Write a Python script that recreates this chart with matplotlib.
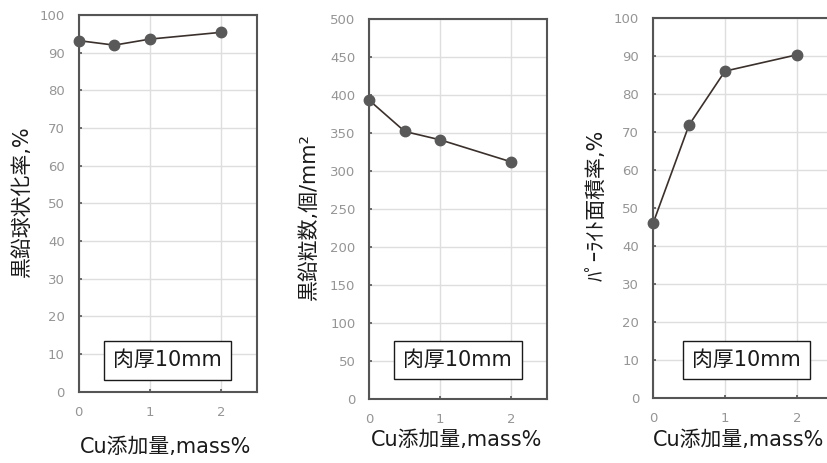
import matplotlib
matplotlib.use('Agg')
import matplotlib.pyplot as plt

plt.rcParams['font.family'] = ['DejaVu Sans', 'Noto Sans CJK JP']

# ---- data ----
cu_mass = [0, 0.5, 1, 2]
nodularity = [93.2, 92.0, 93.6, 95.4]
particle_count = [393, 352, 341, 312]
pearlite_area = [46.0, 71.9, 86.1, 90.4]

x_label = 'Cu添加量,mass%'
y_labels = ['黒鉛球状化率,%', '黒鉛粒数,個/mm²', 'ﾊﾟｰﾗｲﾄ面積率,%']
box_text = '肉厚10mm'
x_ticks = [0, 1, 2]
y_ticks_pct = [0, 10, 20, 30, 40, 50, 60, 70, 80, 90, 100]
y_ticks_count = [0, 50, 100, 150, 200, 250, 300, 350, 400, 450, 500]

W, H = 828, 463
fig = plt.figure(figsize=(W / 100, H / 100), dpi=100)

def px_axes(left, top, right, bottom):
    return fig.add_axes([left / W, 1 - bottom / H, (right - left) / W, (bottom - top) / H])

panels = [
    dict(rect=(78.7, 15.0, 256.7, 391.7), y=nodularity, ylim=100, yt=y_ticks_pct,
         box=(1.25, 8.3), ylab=(-0.318, 0.505), xlab=(0.49, -0.148)),
    dict(rect=(369.3, 19.0, 546.7, 399.0), y=particle_count, ylim=500, yt=y_ticks_count,
         box=(1.247, 51.3), ylab=(-0.34, 0.48), xlab=(0.49, -0.108)),
    dict(rect=(653.0, 18.3, 833.0, 398.3), y=pearlite_area, ylim=100, yt=y_ticks_pct,
         box=(1.30, 10.1), ylab=(-0.311, 0.508), xlab=(0.477, -0.110)),
]

spine_col = '#555555'
tick_col = '#959595'
grid_col = '#dedede'

for i, p in enumerate(panels):
    ax = px_axes(*p['rect'])
    ax.plot(cu_mass, p['y'], color='#3a302c', lw=1.2, marker='o', ms=7.5,
            mfc='#595959', mec='#595959', zorder=3, clip_on=False)
    ax.set_xlim(0, 2.5)
    ax.set_ylim(0, p['ylim'])
    ax.set_xticks(x_ticks)
    ax.set_yticks(p['yt'])
    ax.grid(True, color=grid_col, lw=1.0)
    ax.set_axisbelow(True)
    for s in ax.spines.values():
        s.set_color(spine_col)
        s.set_linewidth(1.5)
    ax.tick_params(direction='in', length=2.5, width=1.2, color=spine_col,
                   labelcolor=tick_col, labelsize=9.5)
    ax.tick_params(axis='y', pad=10)
    ax.tick_params(axis='x', pad=10)
    ax.set_xlabel(x_label, fontsize=15, color='#1a1a1a')
    ax.xaxis.label.set_va('center')
    ax.xaxis.set_label_coords(*p['xlab'])
    ax.set_ylabel(y_labels[i], fontsize=15, color='#1a1a1a')
    ax.yaxis.label.set_va('center')
    ax.yaxis.set_label_coords(*p['ylab'])
    ax.text(p['box'][0], p['box'][1], box_text, fontsize=15, color='#1a1a1a',
            ha='center', va='center', zorder=5,
            bbox=dict(boxstyle='square,pad=0.45', fc='white', ec='#1a1a1a', lw=1.0))

fig.savefig('out.png', dpi=100)
